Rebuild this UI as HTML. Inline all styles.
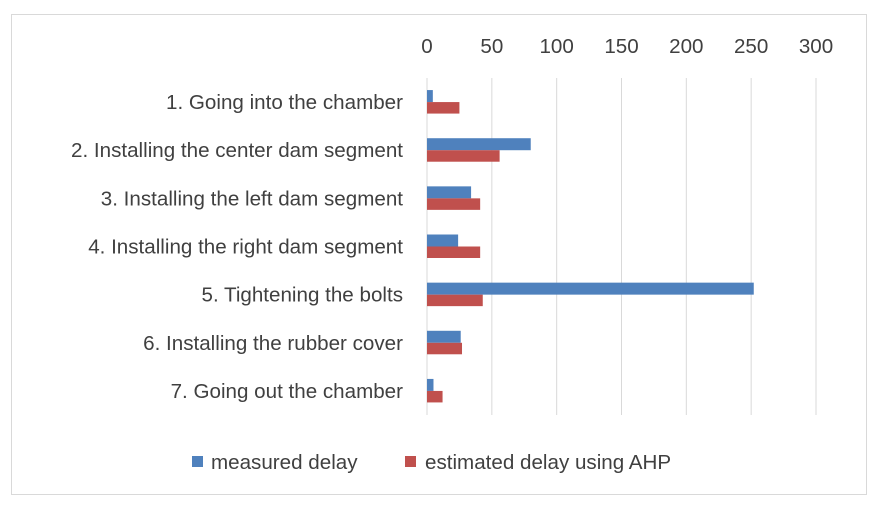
<!DOCTYPE html>
<html><head><meta charset="utf-8"><style>
body{margin:0;background:#fff;font-family:"Liberation Sans",sans-serif;}
svg text{font-family:"Liberation Sans",sans-serif;fill:#404040;}
</style></head><body>
<svg id="chart" width="881" height="508" xmlns="http://www.w3.org/2000/svg">
<rect x="11.5" y="14.5" width="855" height="480" fill="#fff" stroke="#d9d9d9"/>
<g id="grid"></g><g id="bars"></g><g id="labels"></g>
<g>
<rect x="192" y="456" width="11" height="11" fill="#4f81bd"/>
<text x="211" y="469" font-size="20.6">measured delay</text>
<rect x="405" y="456" width="11" height="11" fill="#c0504d"/>
<text x="425" y="469" font-size="20.6">estimated delay using AHP</text>
</g>
</svg>
<script>
const categories=["1. Going into the chamber","2. Installing the center dam segment","3. Installing the left dam segment","4. Installing the right dam segment","5. Tightening the bolts","6. Installing the rubber cover","7. Going out the chamber"];
const measured=[4.5,80,34,24,252,26,5];
const estimated=[25,56,41,41,43,27,12];
const ticks=[0,50,100,150,200,250,300];
const NS="http://www.w3.org/2000/svg";
const x0=427,x1=816,maxV=300,yTop=78,yBot=415;
const xs=v=>x0+(x1-x0)*v/maxV;
const band=(yBot-yTop)/categories.length;
const grid=document.getElementById('grid'),bars=document.getElementById('bars'),labels=document.getElementById('labels');
function mk(tag,attrs,parent){const e=document.createElementNS(NS,tag);for(const k in attrs)e.setAttribute(k,attrs[k]);parent.appendChild(e);return e;}
ticks.forEach(t=>{
 const l=mk('line',{x1:xs(t),x2:xs(t),y1:yTop,y2:yBot,stroke:'#d9d9d9','stroke-width':1},grid);
 
 
 const tx=mk('text',{x:xs(t),y:53,'font-size':20.6,'text-anchor':'middle'},labels);
 
 
 tx.textContent=t;
});
categories.forEach((c,i)=>{
 const cy=yTop+band*(i+0.5);
 const b1=mk('rect',{x:x0,y:cy-12,width:xs(measured[i])-x0,height:12,fill:'#4f81bd'},bars);
 
 
 const b2=mk('rect',{x:x0,y:cy,width:xs(estimated[i])-x0,height:11.5,fill:'#c0504d'},bars);
 
 
 const t=mk('text',{x:403,y:cy+7,'font-size':20.6,'text-anchor':'end'},labels);
 
 
 t.textContent=c;
});
</script>
</body></html>
